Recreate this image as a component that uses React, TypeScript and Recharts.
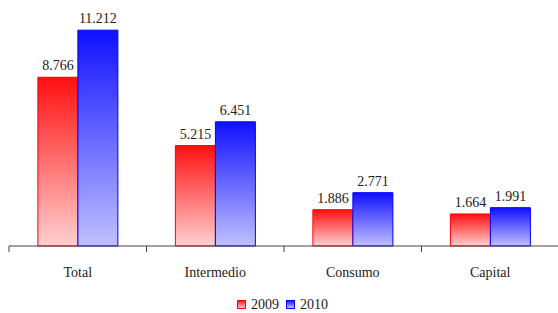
import React, { FC, ReactElement } from 'react';
import { BarChart, Bar, XAxis, YAxis, LabelList, Legend } from 'recharts';

const categories = ['Total', 'Intermedio', 'Consumo', 'Capital'];
const values2009 = [8.766, 5.215, 1.886, 1.664];
const values2010 = [11.212, 6.451, 2.771, 1.991];
const valueLabels2009 = ['8.766', '5.215', '1.886', '1.664'];
const valueLabels2010 = ['11.212', '6.451', '2.771', '1.991'];

const data = categories.map((name, i) => ({
  name,
  y2009: values2009[i],
  y2010: values2010[i],
  l2009: valueLabels2009[i],
  l2010: valueLabels2010[i],
}));

const WIDTH = 558;
const HEIGHT = 313;
const LEFT = 9;
const CAT_W = (WIDTH - LEFT + 1) / categories.length;
const FONT = '"Liberation Serif", "DejaVu Serif", serif';

const CategoryTick = (props: any): ReactElement => {
  const { x, y, payload } = props;
  const bx = x - CAT_W / 2;
  return (
    <g>
      <line x1={bx} y1={y - 8} x2={bx} y2={y - 2} stroke="#444" strokeWidth={1} />
      <text x={x} y={y + 23} textAnchor="middle" fill="#222" fontSize={14} fontFamily={FONT}>
        {payload.value}
      </text>
    </g>
  );
};

const LegendContent = (): ReactElement => (
  <div style={{ display: 'flex', alignItems: 'center', fontFamily: FONT, fontSize: 14, lineHeight: '15px', color: '#222' }}>
    <span
      style={{
        width: 7,
        height: 7,
        border: '1px solid #ff0000',
        background: 'linear-gradient(#ff2020, #ffc8c8)',
        marginRight: 5,
      }}
    />
    <span style={{ marginRight: 7 }}>2009</span>
    <span
      style={{
        width: 7,
        height: 7,
        border: '1px solid #0000ff',
        background: 'linear-gradient(#2020ff, #c0c0ff)',
        marginRight: 5,
      }}
    />
    <span>2010</span>
  </div>
);

const App: FC = (): ReactElement => {
  return (
    <div style={{ position: 'absolute', left: 0, top: 0 }}>
      <BarChart
        width={WIDTH}
        height={HEIGHT}
        data={data}
        barGap={0}
        barCategoryGap="21%"
        margin={{ top: 15, right: -1, left: LEFT, bottom: 22 }}
      >
        <defs>
          <linearGradient id="gRed" x1="0" y1="0" x2="0" y2="1">
            <stop offset="0%" stopColor="#ff1010" />
            <stop offset="100%" stopColor="#ffd0d0" />
          </linearGradient>
          <linearGradient id="gBlue" x1="0" y1="0" x2="0" y2="1">
            <stop offset="0%" stopColor="#1010ff" />
            <stop offset="100%" stopColor="#c0c0ff" />
          </linearGradient>
        </defs>
        <XAxis
          dataKey="name"
          axisLine={{ stroke: '#444' }}
          tickLine={false}
          tick={<CategoryTick />}
          interval={0}
          height={30}
        />
        <YAxis hide domain={[0, 12]} />
        <Legend
          content={<LegendContent />}
          wrapperStyle={{ position: 'absolute', left: 237, top: 297, width: 'auto' }}
        />
        <Bar dataKey="y2009" fill="url(#gRed)" stroke="#ff0000" strokeWidth={1} isAnimationActive={false}>
          <LabelList dataKey="l2009" position="top" offset={7} fill="#222" fontSize={14} fontFamily={FONT} />
        </Bar>
        <Bar dataKey="y2010" fill="url(#gBlue)" stroke="#0000ff" strokeWidth={1} isAnimationActive={false}>
          <LabelList dataKey="l2010" position="top" offset={7} fill="#222" fontSize={14} fontFamily={FONT} />
        </Bar>
      </BarChart>
    </div>
  );
};

export default App;
